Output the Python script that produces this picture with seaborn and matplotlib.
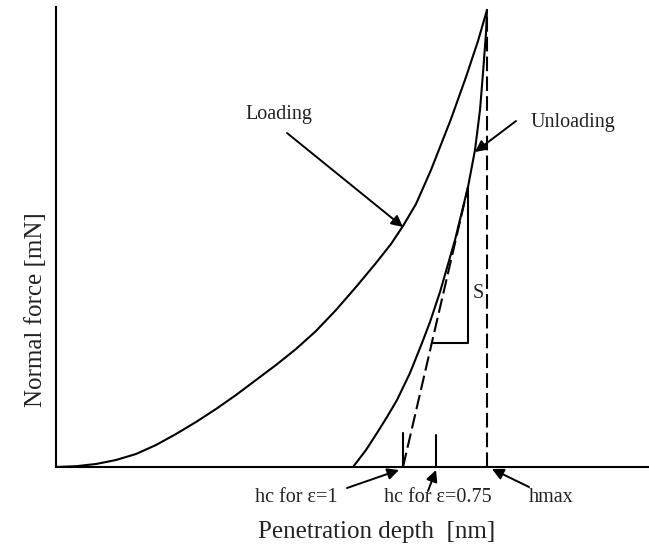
import matplotlib
matplotlib.use("Agg")
import matplotlib.pyplot as plt
import seaborn as sns
import pandas as pd

# Load-displacement curve of an indentation test (arbitrary units)
loading_depth = [0, 20, 40, 60, 80, 100, 120, 140, 160, 180, 200, 220, 240, 260, 280,
                 300, 320, 335, 347, 360, 375, 395, 410, 422, 431]
loading_force = [0, 0.8, 3, 7, 13, 22, 33, 45, 58, 72, 87, 102, 118, 136, 157,
                 180, 204, 223, 241, 263, 297, 348, 390, 426, 457]

unloading_depth = [297, 310, 321, 331, 341, 354, 366, 374, 384, 399, 412, 419, 424, 427, 430, 431]
unloading_force = [0, 17, 34, 50, 67, 94, 124, 145, 175, 227, 280, 317, 357, 394, 434, 457]

# Characteristic depths and the stiffness tangent
h_max = 431
p_max = 457
hc_eps1 = 347
hc_eps075 = 380
tangent_depth = [hc_eps1, 412]
tangent_force = [0, 280]
s_triangle_depth = [376, 412, 412]
s_triangle_force = [124, 124, 280]
hc_marker_height = [34, 32]

sns.set_theme(style="white")
plt.rcParams["font.family"] = ["Liberation Serif", "DejaVu Serif"]

fig = plt.figure(figsize=(6.49, 5.54), dpi=100)
ax = fig.add_axes([56 / 649, 87 / 554, 593 / 649, 460 / 554])

ink = "black"
lw = 1.5
dash = (0, (7, 2.5))

load_df = pd.DataFrame({"depth": loading_depth, "force": loading_force})
unload_df = pd.DataFrame({"depth": unloading_depth, "force": unloading_force})
sns.lineplot(data=load_df, x="depth", y="force", sort=False, estimator=None,
             color=ink, lw=lw, ax=ax)
sns.lineplot(data=unload_df, x="depth", y="force", sort=False, estimator=None,
             color=ink, lw=lw, ax=ax)

# Tangent to the unloading curve and the stiffness triangle
sns.lineplot(x=tangent_depth, y=tangent_force, sort=False, estimator=None,
             color=ink, lw=lw, linestyle=dash, ax=ax)
ax.plot(s_triangle_depth, s_triangle_force, color=ink, lw=lw)

# Maximum depth line
ax.plot([h_max, h_max], [0, p_max], color=ink, lw=lw, linestyle=dash)

# Contact depth markers
ax.plot([hc_eps1, hc_eps1], [0, hc_marker_height[0]], color=ink, lw=lw)
ax.plot([hc_eps075, hc_eps075], [0, hc_marker_height[1]], color=ink, lw=lw)

ax.set_xlim(0, 593)
ax.set_ylim(0, 460)
ax.set_xticks([])
ax.set_yticks([])
for side in ("top", "right"):
    ax.spines[side].set_visible(False)
for side in ("left", "bottom"):
    ax.spines[side].set_color(ink)
    ax.spines[side].set_linewidth(1.5)

arrow = dict(arrowstyle="-|>", color=ink, lw=1.4, mutation_scale=17,
             shrinkA=0, shrinkB=0)
fs = 14.5

def note(text, xy_text, tail, tip):
    ax.text(*xy_text, text, ha="center", va="center", fontsize=fs, color="#222222",
            clip_on=False)
    ax.annotate("", xy=tip, xytext=tail, arrowprops=arrow, annotation_clip=False)

note("Loading", (223, 352), (231, 334), (347, 240))
note("Unloading", (517, 345), (460, 346), (419, 315))
note("hc for ε=1", (240, -30), (291, -21), (343, -3))
note("hc for ε=0.75", (382, -30), (372, -24), (380, -3))
note("hmax", (495, -30), (473, -20), (436, -2))
ax.text(422, 174, "S", ha="center", va="center", fontsize=fs, color="#222222")

ax.set_xlabel("Penetration depth  [nm]", fontsize=18, color="#222222", va="center")
ax.xaxis.set_label_coords((377 - 56) / 593, (467 - 532) / 460)
ax.set_ylabel("Normal force [mN]", fontsize=18, color="#222222", va="center")
ax.yaxis.set_label_coords((36 - 56) / 593, (467 - 310) / 460)

fig.savefig("out.png", dpi=100)
